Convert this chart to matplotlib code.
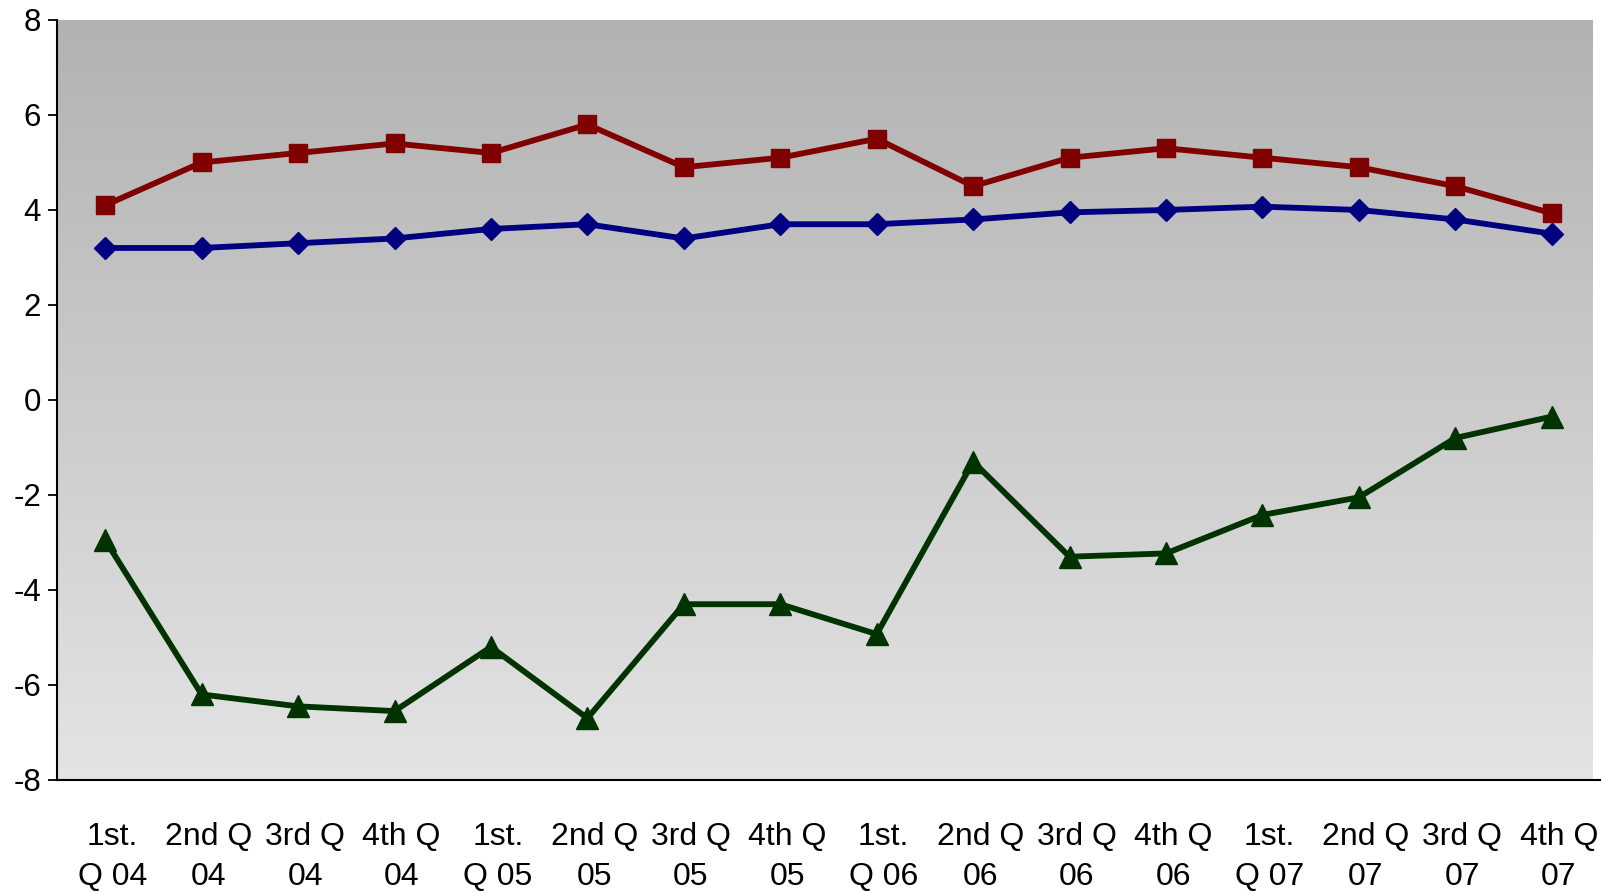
import numpy as np
import matplotlib
matplotlib.use("Agg")
import matplotlib.pyplot as plt
from matplotlib.colors import LinearSegmentedColormap
from matplotlib.transforms import ScaledTranslation

plt.rcParams['font.family'] = ['Liberation Sans', 'DejaVu Sans']

# Quarterly categories
quarters = ["1st.\nQ 04", "2nd Q\n04", "3rd Q\n04", "4th Q\n04",
            "1st.\nQ 05", "2nd Q\n05", "3rd Q\n05", "4th Q\n05",
            "1st.\nQ 06", "2nd Q\n06", "3rd Q\n06", "4th Q\n06",
            "1st.\nQ 07", "2nd Q\n07", "3rd Q\n07", "4th Q\n07"]

# Series values
red_series = [4.1, 5.0, 5.2, 5.4, 5.2, 5.8, 4.9, 5.1,
              5.5, 4.5, 5.1, 5.3, 5.1, 4.9, 4.5, 3.93]
blue_series = [3.2, 3.2, 3.3, 3.4, 3.6, 3.7, 3.4, 3.7,
               3.7, 3.8, 3.95, 4.0, 4.07, 4.0, 3.8, 3.5]
green_series = [-2.95, -6.2, -6.45, -6.55, -5.2, -6.7, -4.3, -4.3,
                -4.93, -1.3, -3.3, -3.23, -2.42, -2.05, -0.8, -0.35]

y_ticks = list(range(-8, 9, 2))

fig = plt.figure(figsize=(16.05, 8.92), dpi=100)
ax = fig.add_axes([0.0355, 0.1256, 0.9614, 0.852])

# Vertical grey gradient in the plotting area
grad = np.linspace(0, 1, 256).reshape(-1, 1)
cmap = LinearSegmentedColormap.from_list("bg", ["#b2b2b2", "#e4e4e4"])
ax.imshow(grad, cmap=cmap, aspect='auto', extent=[0, 0.995, 0, 1],
          transform=ax.transAxes, origin='upper', zorder=0)

x = np.arange(len(quarters))
ax.plot(x, green_series, color='#003300', lw=4.2, marker='^', ms=16,
        zorder=3)
ax.plot(x, blue_series, color='#000080', lw=4.2, marker='D', ms=11.5,
        zorder=4)
ax.plot(x, red_series, color='#800000', lw=4.2, marker='s', ms=13.5,
        zorder=5)

ax.set_xlim(-0.5, len(quarters) - 0.5)
ax.set_ylim(-8, 8)
ax.set_yticks(y_ticks)
ax.set_yticklabels([str(v) for v in y_ticks])
ax.set_xticks(x)
ax.set_xticklabels(quarters, linespacing=1.45)

ax.set_facecolor('white')
for s in ['top', 'right']:
    ax.spines[s].set_visible(False)
for s in ['left', 'bottom']:
    ax.spines[s].set_linewidth(1.5)
    ax.spines[s].set_color('black')
    ax.spines[s].set_zorder(6)

ax.tick_params(axis='y', direction='out', length=6.5, width=1.3, pad=5,
               labelsize=22.5)
ax.tick_params(axis='x', length=0, pad=30, labelsize=23)

shift = ScaledTranslation(7 / 100, 0, fig.dpi_scale_trans)
for lbl in ax.get_xticklabels():
    lbl.set_transform(lbl.get_transform() + shift)

fig.savefig("out.png", dpi=100)
